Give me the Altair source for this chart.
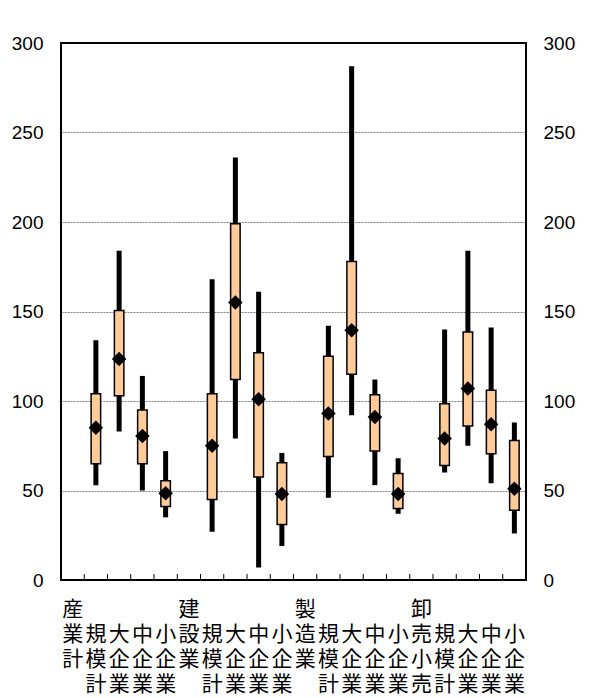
import json
import altair as alt
import pandas as pd

# ---- data ----
categories = ["産業計", "規模計", "大企業", "中企業", "小企業",
              "建設業", "規模計", "大企業", "中企業", "小企業",
              "製造業", "規模計", "大企業", "中企業", "小企業",
              "卸売小売", "規模計", "大企業", "中企業", "小企業"]
headers = ["産業計", "建設業", "製造業", "卸売小売"]

whisker_high = [None, 134, 184, 114, 72, None, 168, 236, 161, 71,
                None, 142, 287, 112, 68, None, 140, 184, 141, 88]
box_high = [None, 104, 150.5, 95, 55.5, None, 104, 199, 127, 65.5,
            None, 125, 178, 103.5, 59.5, None, 98.5, 138.5, 106, 78]
mean_val = [None, 85, 123.5, 80.5, 48.5, None, 75, 155, 101, 48,
            None, 93, 139.5, 91, 48, None, 79, 107, 87, 51]
box_low = [None, 65, 103, 65, 41, None, 45, 112, 57.5, 31,
           None, 69, 115, 72, 40, None, 64, 86, 70.5, 39]
whisker_low = [None, 53, 83, 50, 35, None, 27, 79, 7, 19,
               None, 46, 92, 53, 37, None, 60, 75, 54, 26]
y_ticks = [0, 50, 100, 150, 200, 250, 300]

# display text: headers start on the first row, others on the second
display = [c if c in headers else "\u3000" + c for c in categories]

rows = []
for i, c in enumerate(categories):
    if whisker_high[i] is None:
        continue
    rows.append(dict(key=i, lo=whisker_low[i], hi=whisker_high[i],
                     q1=box_low[i], q3=box_high[i], mean=mean_val[i]))
df = pd.DataFrame(rows)
df_all = pd.DataFrame({"key": list(range(len(categories)))})

W, H = 465, 537

x_scale = alt.Scale(domain=list(range(len(categories))), paddingInner=0, paddingOuter=0)
x_axis = alt.Axis(
    orient="bottom", domain=False, ticks=False, grid=False, labelAngle=0,
    labelExpr="split(" + json.dumps(display, ensure_ascii=False) + "[datum.value], '')",
    labelFont="Noto Sans CJK JP", labelFontSize=21, labelLineHeight=25,
    labelBaseline="top", labelAlign="center", labelPadding=18, labelColor="black",
    labelOverlap=False, labelBound=False, labelFlush=False, labelLimit=0, title=None,
)
y_scale = alt.Scale(domain=[0, 300], nice=False, zero=True)
y_left = alt.Axis(orient="left", values=y_ticks, grid=True, gridColor="#808080",
                  gridDash=[2, 1], gridWidth=1, domain=False, ticks=False,
                  labelFont="Liberation Sans", labelFontSize=19, labelColor="black",
                  labelPadding=18, title=None)
y_right = alt.Axis(orient="right", values=y_ticks, grid=False, domain=False, ticks=False,
                   labelFont="Liberation Sans", labelFontSize=19, labelColor="black",
                   labelPadding=17, title=None)

base = alt.Chart(df)

whiskers = base.mark_rule(color="black", strokeWidth=5).encode(
    x=alt.X("key:O", scale=x_scale, axis=x_axis),
    y=alt.Y("lo:Q", scale=y_scale, axis=y_left),
    y2="hi:Q",
)
boxes = base.mark_bar(fill="#FFCC99", stroke="black", strokeWidth=1.5, size=9.5).encode(
    x=alt.X("key:O", scale=x_scale, axis=x_axis),
    y=alt.Y("q1:Q", scale=y_scale, axis=y_right),
    y2="q3:Q",
)
diamonds = base.mark_point(shape="diamond", filled=True, color="black", size=210, opacity=1).encode(
    x=alt.X("key:O", scale=x_scale, axis=x_axis),
    y=alt.Y("mean:Q", scale=y_scale, axis=None),
)
xticks = alt.Chart(df_all).mark_rule(color="black", strokeWidth=1).encode(
    x=alt.X("key:O", scale=x_scale, axis=x_axis, bandPosition=0),
    y=alt.value(H - 6),
    y2=alt.value(H),
)
frame = alt.Chart(pd.DataFrame({"k": [0]})).mark_rect(
    fill=None, stroke="black", strokeWidth=2
).encode(
    x=alt.value(0), x2=alt.value(W), y=alt.value(0), y2=alt.value(H),
)

chart = (
    alt.layer(whiskers, boxes, diamonds, xticks, frame)
    .resolve_scale(y="shared")
    .resolve_axis(y="independent")
    .properties(
        width=W, height=H,
        padding={"left": 53, "top": 35, "right": 70, "bottom": 116},
        autosize=alt.AutoSizeParams(type="none"),
        background="white",
    )
    .configure_view(stroke=None)
)

chart.save("out.html", embed_options={"renderer": "svg", "actions": False})
